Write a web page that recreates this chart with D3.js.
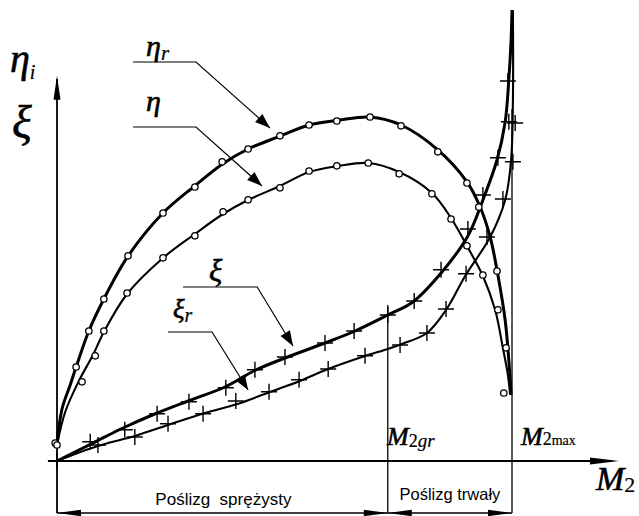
<!DOCTYPE html>
<html><head><meta charset="utf-8">
<script src="https://cdn.jsdelivr.net/npm/d3@7"></script>
<style>html,body{margin:0;padding:0;background:#fff}svg{display:block}</style>
</head><body>
<script>
// ---- data (x = M2 / M2max, y = efficiency / slip, relative units) ----
const M2gr = 0.727;
const etaRLine = [[0,0.04],[0.011,0.13],[0.029,0.19],[0.042,0.235],[0.07,0.325],[0.103,0.405],[0.156,0.512],[0.233,0.62],[0.303,0.688],[0.363,0.742],[0.42,0.78],[0.49,0.812],[0.554,0.84],[0.618,0.852],[0.688,0.86],[0.756,0.84],[0.837,0.778],[0.901,0.698],[0.93,0.635],[0.952,0.56],[0.969,0.465],[0.985,0.352],[0.993,0.252],[0.998,0.165]];
const etaLine = [[0,0.04],[0.018,0.1225],[0.048,0.2],[0.079,0.265],[0.103,0.3225],[0.154,0.4175],[0.233,0.5075],[0.303,0.5675],[0.365,0.6175],[0.42,0.6525],[0.49,0.6875],[0.554,0.7225],[0.618,0.7375],[0.684,0.745],[0.752,0.7225],[0.824,0.67],[0.866,0.6075],[0.901,0.5375],[0.936,0.4625],[0.963,0.3775],[0.98,0.2825],[0.991,0.215],[0.996,0.165]];
const xiLine = [[0,0],[0.079,0.045],[0.145,0.0825],[0.22,0.12],[0.288,0.15],[0.369,0.185],[0.437,0.2275],[0.501,0.2575],[0.589,0.295],[0.655,0.325],[0.727,0.365],[0.782,0.3975],[0.846,0.4725],[0.903,0.5625],[0.936,0.6525],[0.967,0.7525],[0.985,0.8475],[0.993,0.9525],[0.998,1.0525],[1.0,1.1275]];
const xiRLine = [[0,0],[0.09,0.0375],[0.171,0.0625],[0.244,0.09],[0.325,0.12],[0.396,0.1425],[0.468,0.1725],[0.534,0.2],[0.596,0.23],[0.677,0.2625],[0.727,0.28],[0.758,0.2925],[0.813,0.32],[0.855,0.3775],[0.897,0.4625],[0.952,0.56],[0.985,0.6525],[0.998,0.7525],[1.002,0.9025],[1.002,1.1275]];
// measured points
const etaRPts = [[-0.004,0.045],[0.042,0.235],[0.07,0.325],[0.103,0.405],[0.156,0.513],[0.233,0.62],[0.303,0.685],[0.363,0.748],[0.42,0.78],[0.49,0.813],[0.554,0.84],[0.615,0.85],[0.688,0.86],[0.756,0.838],[0.837,0.773],[0.901,0.695],[0.927,0.635],[0.967,0.475],[0.987,0.283]];
const etaPts = [[0,0.04],[0.055,0.198],[0.084,0.263],[0.103,0.325],[0.154,0.42],[0.233,0.508],[0.303,0.563],[0.365,0.623],[0.42,0.653],[0.49,0.683],[0.554,0.725],[0.615,0.738],[0.684,0.745],[0.752,0.718],[0.824,0.668],[0.866,0.605],[0.901,0.538],[0.936,0.465],[0.969,0.378],[0.982,0.17]];
const xiPts = [[0,0],[0.073,0.048],[0.149,0.078],[0.22,0.118],[0.29,0.148],[0.371,0.183],[0.435,0.228],[0.501,0.26],[0.589,0.295],[0.653,0.325],[0.727,0.365],[0.785,0.4],[0.844,0.478],[0.903,0.58],[0.936,0.665],[0.969,0.758],[0.993,0.848],[0.991,0.95]];
const xiRPts = [[0.09,0.04],[0.171,0.06],[0.244,0.093],[0.321,0.118],[0.393,0.15],[0.466,0.173],[0.532,0.203],[0.596,0.23],[0.677,0.263],[0.754,0.29],[0.813,0.32],[0.855,0.38],[0.899,0.468],[0.945,0.56],[0.98,0.655],[1.002,0.748],[1.007,0.845]];
// labels
const rangeLabels = ["Poślizg\u00a0\u00a0sprężysty", "Poślizg trwały"];

// ---- drawing ----
const W = 639, H = 516;
const svg = d3.select("body").append("svg").attr("width", W).attr("height", H);
svg.append("rect").attr("width", W).attr("height", H).attr("fill", "#fff");

const x = d3.scaleLinear().domain([0, 1]).range([57, 512]);
const y = d3.scaleLinear().domain([0, 1]).range([461, 61]);

function arrowHead(g, tip, from, len, hw) {
  const dx = tip[0] - from[0], dy = tip[1] - from[1];
  const L = Math.hypot(dx, dy), ux = dx / L, uy = dy / L;
  const bx = tip[0] - ux * len, by = tip[1] - uy * len;
  g.append("path").attr("d", `M${tip[0]},${tip[1]}L${bx - uy * hw},${by + ux * hw}L${bx + uy * hw},${by - ux * hw}Z`).attr("fill", "#000");
}

const g = svg.append("g");
const yDim = y(-0.13);
// axes
g.append("line").attr("x1", x(0)).attr("x2", x(0)).attr("y1", yDim).attr("y2", y(0.955)).attr("stroke", "#000").attr("stroke-width", 1.8);
arrowHead(g, [x(0), y(0.963)], [x(0), y(0)], 24, 3.5);
g.append("line").attr("x1", x(-0.02)).attr("x2", x(1.22)).attr("y1", y(0)).attr("y2", y(0)).attr("stroke", "#000").attr("stroke-width", 1.8);
arrowHead(g, [x(1.235), y(0)], [x(0), y(0)], 29, 3.5);
// vertical limits
g.append("line").attr("x1", x(M2gr)).attr("x2", x(M2gr)).attr("y1", y(0.39)).attr("y2", yDim).attr("stroke", "#000").attr("stroke-width", 1.3);
g.append("line").attr("x1", x(1)).attr("x2", x(1)).attr("y1", y(0.88)).attr("y2", yDim).attr("stroke", "#000").attr("stroke-width", 1.3);
// dimension line
g.append("line").attr("x1", x(0)).attr("x2", x(1)).attr("y1", yDim).attr("y2", yDim).attr("stroke", "#000").attr("stroke-width", 1.3);
arrowHead(g, [x(0), yDim], [x(0.1), yDim], 24, 3.2);
arrowHead(g, [x(M2gr), yDim], [x(0.5), yDim], 24, 3.2);
arrowHead(g, [x(M2gr), yDim], [x(0.9), yDim], 24, 3.2);
arrowHead(g, [x(1), yDim], [x(0.8), yDim], 24, 3.2);

// curves
const line = d3.line().x(d => x(d[0])).y(d => y(d[1])).curve(d3.curveCatmullRom.alpha(0.5));
const series = [
  {line: etaRLine, pts: etaRPts, w: 3.0, m: "o"},
  {line: etaLine, pts: etaPts, w: 2.1, m: "o"},
  {line: xiLine, pts: xiPts, w: 3.0, m: "+"},
  {line: xiRLine, pts: xiRPts, w: 2.1, m: "+"}
];
series.forEach(s => {
  g.append("path").attr("d", line(s.line)).attr("fill", "none").attr("stroke", "#000").attr("stroke-width", s.w).attr("stroke-linejoin", "round");
});
series.forEach(s => {
  if (s.m === "o") {
    g.selectAll(null).data(s.pts).enter().append("circle")
      .attr("cx", d => x(d[0])).attr("cy", d => y(d[1])).attr("r", 3.2)
      .attr("fill", "#fff").attr("stroke", "#000").attr("stroke-width", 1.3);
  } else {
    g.selectAll(null).data(s.pts).enter().append("path")
      .attr("d", d => `M${x(d[0]) - 8},${y(d[1])}h16M${x(d[0])},${y(d[1]) - 8}v16`)
      .attr("stroke", "#000").attr("stroke-width", 1.4).attr("fill", "none");
  }
});

// leaders
const leaders = [
  {p: [[0.167, 0.9975], [0.3055, 0.9975], [0.468, 0.8325]]},
  {p: [[0.167, 0.835], [0.3055, 0.835], [0.4505, 0.6875]]},
  {p: [[0.277, 0.435], [0.44, 0.435], [0.5187, 0.2875]]},
  {p: [[0.244, 0.3225], [0.3407, 0.3225], [0.42, 0.1775]]}
];
leaders.forEach(l => {
  const pp = l.p.map(d => [x(d[0]), y(d[1])]);
  g.append("path").attr("d", d3.line()(pp)).attr("fill", "none").attr("stroke", "#000").attr("stroke-width", 1.2);
  arrowHead(g, pp[2], pp[1], 15, 5.5);
});

// text
const serif = "'Liberation Serif','Times New Roman',serif";
function mathLabel(px, py, main, sub, fs) {
  const t = g.append("text").attr("x", px).attr("y", py).attr("font-family", serif).attr("font-style", "italic").attr("font-size", fs)
    .attr("stroke", "#000").attr("stroke-width", 0.6);
  t.append("tspan").text(main);
  if (sub) sub.forEach(s => t.append("tspan").attr("dx", s.dx || 0).attr("dy", s.dy || 0).attr("font-size", s.fs).attr("font-style", s.st || "italic").attr("stroke-width", 0.2).text(s.t));
  return t;
}
mathLabel(10, 72, "η", [{t: "i", dy: 7, fs: 20}], 40);
mathLabel(12, 138, "ξ", null, 46);
mathLabel(146, 56, "η", [{t: "r", dy: 4, fs: 21}], 30);
mathLabel(146, 111, "η", null, 30);
mathLabel(209, 281, "ξ", null, 31);
mathLabel(173, 318, "ξ", [{t: "r", dy: 4, fs: 20}], 27);
mathLabel(387, 445, "M", [{t: "2", dy: 2, fs: 18, st: "normal"}, {t: "gr", fs: 19}], 26);
mathLabel(521, 445, "M", [{t: "2", dy: 0, fs: 18, st: "normal"}, {t: "max", fs: 14, st: "normal"}], 26);
mathLabel(596, 490, "M", [{t: "2", dy: 2, fs: 22, st: "normal"}], 34);

const sans = "'Liberation Sans',Arial,sans-serif";
g.append("text").attr("x", (x(0) + x(M2gr)) / 2 + 1).attr("y", 505).attr("text-anchor", "middle").attr("font-family", sans).attr("font-size", 17).style("white-space", "pre").text(rangeLabels[0]);
g.append("text").attr("x", (x(M2gr) + x(1)) / 2).attr("y", 500).attr("text-anchor", "middle").attr("font-family", sans).attr("font-size", 16.5).text(rangeLabels[1]);
</script>
</body></html>
